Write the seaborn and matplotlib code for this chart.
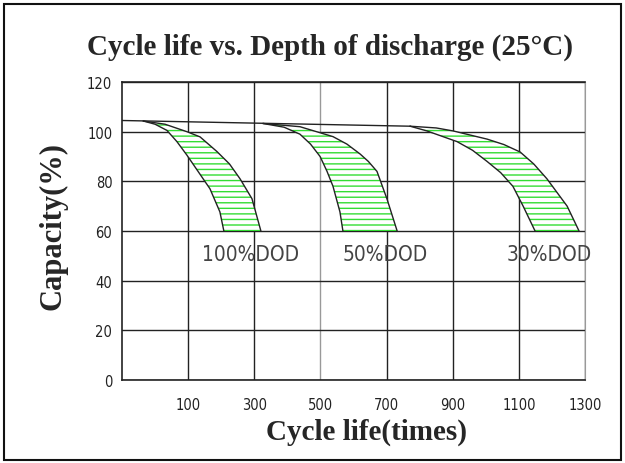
import matplotlib
matplotlib.use('Agg')
import matplotlib.pyplot as plt
import seaborn as sns
import pandas as pd
import numpy as np
from matplotlib.patches import Rectangle

# values (x = cycles on the chart's own scale, y = capacity %)
top_x = [-100, 771]
top_y = [104.5, 102.2]

dod100_in_x = [-36, 0, 36, 66, 96, 130, 166, 196, 208]
dod100_in_y = [104.3, 103.0, 100.5, 96, 90.6, 84, 77, 67.7, 60]
dod100_out_x = [-36, 30, 96, 136, 187, 225, 257, 293, 320]
dod100_out_y = [104.3, 103.0, 100, 97.9, 92, 87, 81, 73, 60]

dod50_in_x = [326, 390, 438, 470, 499, 520, 538, 559, 568]
dod50_in_y = [103.3, 101.8, 99, 95, 90, 84, 78, 67.7, 60]
dod50_out_x = [326, 438, 538, 580, 620, 645, 671, 701, 732]
dod50_out_y = [103.3, 102, 98, 95, 91, 88, 84, 73, 60]

dod30_in_x = [771, 822, 913, 960, 1004, 1045, 1082, 1113, 1149]
dod30_in_y = [102.2, 100.3, 96, 92.5, 88, 83.5, 78, 70, 60]
dod30_out_x = [771, 850, 901, 1004, 1055, 1104, 1145, 1185, 1246, 1282]
dod30_out_y = [102.2, 101.5, 100.3, 97, 94.8, 91.8, 87, 81, 70, 60]

labels = ['100%DOD', '50%DOD', '30%DOD']
label_x = [290, 695, 1191]
label_y = [50.7, 50.7, 50.7]

x_ticks = [100, 300, 500, 700, 900, 1100, 1300]
y_ticks = [0, 20, 40, 60, 80, 100, 120]

sns.set_style('white')
plt.rcParams['hatch.linewidth'] = 1.0
sans = ['DejaVu Sans']
serif = ['Liberation Serif', 'DejaVu Serif']

fig = plt.figure(figsize=(6.25, 4.64), dpi=100)
ax = fig.add_axes([122 / 625, 83 / 464, 463 / 625, 298 / 464])

bands = [
    (dod100_in_x, dod100_in_y, dod100_out_x, dod100_out_y),
    (dod50_in_x, dod50_in_y, dod50_out_x, dod50_out_y),
    (dod30_in_x, dod30_in_y, dod30_out_x, dod30_out_y),
]
for ix, iy, ox, oy in bands:
    px = np.concatenate([ix, ox[::-1]])
    py = np.concatenate([iy, oy[::-1]])
    ax.fill(px, py, facecolor='white', edgecolor='#33dd33', hatch='---', linewidth=0, zorder=2)
    for cx, cy in [(ix, iy), (ox, oy)]:
        d = pd.DataFrame({'x': cx, 'y': cy})
        sns.lineplot(data=d, x='x', y='y', sort=False, color='#222222', linewidth=1.0, ax=ax, zorder=3)

d = pd.DataFrame({'x': top_x, 'y': top_y})
sns.lineplot(data=d, x='x', y='y', sort=False, color='#222222', linewidth=1.0, ax=ax, zorder=3)

for t, x, y in zip(labels, label_x, label_y):
    ax.text(x, y, t, ha='center', va='center', fontsize=15, family=sans, fontstretch='condensed',
            fontweight='light', color='#444444', zorder=4)

ax.set_xlim(-100, 1300)
ax.set_ylim(0, 120)
ax.set_xticks(x_ticks)
ax.set_yticks(y_ticks)
ax.grid(True, color='#222222', linewidth=1.0)
ax.get_xgridlines()[2].set_color('#999999')
ax.set_axisbelow(True)
ax.tick_params(axis='both', length=0, labelsize=10.5)
ax.tick_params(axis='x', pad=12)
ax.tick_params(axis='y', pad=7)
for lab in ax.get_xticklabels() + ax.get_yticklabels():
    lab.set_family(sans)
    lab.set_fontstretch('condensed')
    lab.set_color('#222222')
for s in ['left', 'bottom', 'top']:
    ax.spines[s].set_color('#222222')
    ax.spines[s].set_linewidth(1.2)
ax.spines['right'].set_color('#999999')

ax.set_title('Cycle life vs. Depth of discharge (25°C)', family=serif, fontweight='bold',
             fontsize=21, x=0.449, y=1.12, va='center', pad=0)
ax.set_xlabel('Cycle life(times)', family=serif, fontweight='bold', fontsize=21, va='center')
ax.xaxis.set_label_coords(0.527, -0.171)
ax.set_ylabel('Capacity(%)', family=serif, fontweight='bold', fontsize=22, va='center')
ax.yaxis.set_label_coords(-0.149, 0.52)

fig.patches.append(Rectangle((4 / 625, 3 / 464), 617 / 625, 456 / 464, transform=fig.transFigure,
                             fill=False, edgecolor='#111111', linewidth=1.5))

fig.savefig('out.png', dpi=100)
